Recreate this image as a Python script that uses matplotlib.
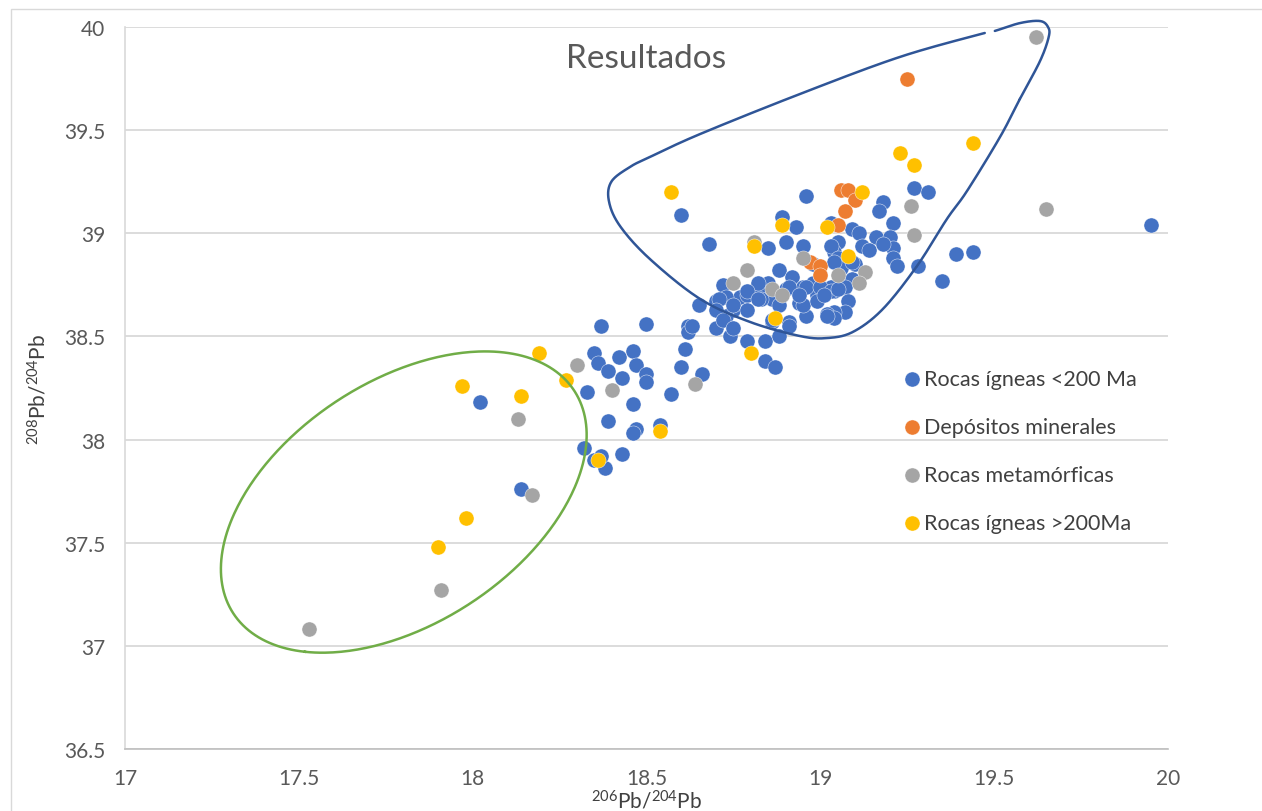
import numpy as np
import matplotlib
matplotlib.use("Agg")
import matplotlib.pyplot as plt
from matplotlib.patches import Rectangle

plt.rcParams["font.family"] = ["Lato", "DejaVu Sans"]
plt.rcParams["mathtext.default"] = "regular"

# ---- datos (206Pb/204Pb, 208Pb/204Pb) ----
ign_jov_x = [19.95, 19.44, 19.39, 19.35, 19.28, 19.27, 19.31, 19.18, 19.17, 19.21,
             19.16, 19.20, 19.21, 19.21, 19.22, 19.09, 19.11, 19.12, 19.14, 19.05,
             19.04, 19.09, 19.07, 19.08, 19.07, 19.04, 19.03, 19.03, 19.03, 19.05,
             18.96, 18.89, 18.93, 18.68, 18.85, 18.90, 18.95, 18.88, 18.72, 18.77,
             18.82, 18.92, 18.95, 18.60, 18.98, 18.85, 18.79, 18.73, 18.70, 18.65,
             18.75, 18.73, 18.70, 18.74, 18.79, 18.84, 18.88, 18.86, 18.91, 18.94,
             18.96, 19.02, 19.04, 18.99, 19.04, 18.62, 18.62, 18.50, 18.37, 18.61,
             18.60, 18.66, 18.57, 18.35, 18.36, 18.42, 18.46, 18.47, 18.50, 18.50,
             18.43, 18.39, 18.33, 18.46, 18.39, 18.47, 18.46, 18.54, 18.32, 18.35,
             18.38, 18.43, 18.37, 18.02, 18.14, 18.84, 18.87, 18.86, 18.82, 18.86,
             18.83, 18.90, 19.00, 18.98, 19.06, 19.10,
             19.04, 19.09, 19.18, 18.91, 18.96, 19.00, 19.03, 18.82, 18.79, 18.82,
             18.71, 18.70, 18.75, 18.79, 18.72, 18.75, 18.91, 18.88, 18.95, 19.02,
             18.99, 18.94, 19.01, 19.05, 18.63]
ign_jov_y = [39.04, 38.91, 38.90, 38.77, 38.84, 39.22, 39.20, 39.15, 39.11, 39.05,
             38.98, 38.98, 38.93, 38.88, 38.84, 39.02, 39.00, 38.94, 38.92, 38.96,
             38.91, 38.78, 38.74, 38.67, 38.62, 38.62, 38.74, 39.05, 38.94, 38.88,
             39.18, 39.08, 39.03, 38.95, 38.93, 38.96, 38.94, 38.82, 38.75, 38.69,
             38.74, 38.79, 38.74, 39.09, 38.76, 38.76, 38.70, 38.69, 38.67, 38.65,
             38.63, 38.60, 38.54, 38.50, 38.48, 38.48, 38.50, 38.57, 38.57, 38.66,
             38.60, 38.61, 38.59, 38.70, 38.72, 38.55, 38.52, 38.56, 38.55, 38.44,
             38.35, 38.32, 38.22, 38.42, 38.37, 38.40, 38.43, 38.36, 38.32, 38.28,
             38.30, 38.33, 38.23, 38.17, 38.09, 38.05, 38.03, 38.07, 37.96, 37.90,
             37.86, 37.93, 37.92, 38.18, 37.76, 38.38, 38.35, 38.58, 38.72, 38.68,
             38.68, 38.73, 38.80, 38.85, 38.83, 38.85,
             38.86, 38.86, 38.95, 38.74, 38.74, 38.74, 38.72, 38.76, 38.72, 38.68,
             38.68, 38.63, 38.65, 38.63, 38.58, 38.54, 38.55, 38.65, 38.65, 38.60,
             38.67, 38.70, 38.70, 38.73, 38.55]

dep_x = [19.25, 19.06, 19.08, 19.10, 19.07, 19.05, 18.97, 19.00, 19.00]
dep_y = [39.75, 39.21, 39.21, 39.16, 39.11, 39.04, 38.86, 38.84, 38.80]

met_x = [19.62, 19.65, 17.53, 17.91, 18.17, 18.13, 18.30, 18.40, 18.64, 19.26,
         19.27, 18.81, 18.95, 18.79, 18.75, 18.86, 18.89, 19.05, 19.13, 19.11]
met_y = [39.95, 39.12, 37.08, 37.27, 37.73, 38.10, 38.36, 38.24, 38.27, 39.13,
         38.99, 38.96, 38.88, 38.82, 38.76, 38.73, 38.70, 38.80, 38.81, 38.76]

ign_ant_x = [19.23, 19.27, 19.44, 18.57, 19.12, 19.02, 18.89, 18.81, 19.08, 18.87,
             18.80, 18.19, 18.27, 17.97, 18.14, 18.54, 18.36, 17.98, 17.90]
ign_ant_y = [39.39, 39.33, 39.44, 39.20, 39.20, 39.03, 39.04, 38.94, 38.89, 38.59,
             38.42, 38.42, 38.29, 38.26, 38.21, 38.04, 37.90, 37.62, 37.48]

series = [
    ("Rocas ígneas <200 Ma", ign_jov_x, ign_jov_y, "#4472C4"),
    ("Depósitos minerales", dep_x, dep_y, "#ED7D31"),
    ("Rocas metamórficas", met_x, met_y, "#A5A5A5"),
    ("Rocas ígneas >200Ma", ign_ant_x, ign_ant_y, "#FFC000"),
]

# contorno azul (dibujado a mano en el original, con un hueco arriba)
lazo_x = [19.502, 19.574, 19.632, 19.655, 19.657, 19.632, 19.574, 19.517, 19.422,
          19.364, 19.278, 19.180, 19.094, 19.019, 18.941, 18.798, 18.654, 18.510,
          18.424, 18.392, 18.399, 18.452, 18.510, 18.654, 18.941, 19.229, 19.473]
lazo_y = [39.981, 40.019, 40.029, 40.000, 39.952, 39.835, 39.651, 39.467, 39.205,
          39.069, 38.841, 38.633, 38.522, 38.492, 38.502, 38.570, 38.682, 38.875,
          39.035, 39.156, 39.250, 39.321, 39.370, 39.481, 39.675, 39.855, 39.971]

# elipse verde: centro y semi-diametros conjugados
elip_c = (17.802, 37.697)
elip_u = (-0.526, -0.325)
elip_v = (0.0, -0.654)


def catmull(xs, ys, n=25):
    P = np.column_stack([xs, ys])
    N = len(P)
    t = np.linspace(0, 1, n)[:, None]
    out = []
    for i in range(N - 1):
        p0, p1, p2, p3 = P[i - 1], P[i], P[i + 1], P[(i + 2) % N]
        seg = 0.5 * ((2 * p1) + (-p0 + p2) * t + (2 * p0 - 5 * p1 + 4 * p2 - p3) * t**2
                     + (-p0 + 3 * p1 - 3 * p2 + p3) * t**3)
        out.append(seg)
    out = np.vstack(out)
    return out[:, 0], out[:, 1]


fig = plt.figure(figsize=(12.62, 8.12), dpi=100)
ax = fig.add_axes([0.099, 0.0764, 0.8265, 0.8891])

fig.add_artist(Rectangle((11 / 1262, -0.1), 1.2, 1.1 - 10 / 812,
                         transform=fig.transFigure, fill=False,
                         edgecolor="#D9D9D9", lw=1.0))

for lab, xs, ys, col in series:
    ax.scatter(xs, ys, s=118, color=col, edgecolors="white", linewidths=0.3,
               label=lab, zorder=3)

lx, ly = catmull(lazo_x, lazo_y)
ax.plot(lx, ly, color="#2F5597", lw=1.8, zorder=4, clip_on=False,
        solid_capstyle="round")

# empezar la elipse lejos del extremo izquierdo para evitar la union visible
tt = np.linspace(1.0, 1.0 + 2 * np.pi, 400)
ex = elip_c[0] + elip_u[0] * np.cos(tt) + elip_v[0] * np.sin(tt)
ey = elip_c[1] + elip_u[1] * np.cos(tt) + elip_v[1] * np.sin(tt)
ax.plot(ex, ey, color="#70AD47", lw=1.8, zorder=4, solid_joinstyle="round")

ax.set_xlim(17, 20)
ax.set_ylim(36.5, 40)
xt = np.arange(17, 20.01, 0.5)
yt = np.arange(36.5, 40.01, 0.5)
ax.set_xticks(xt)
ax.set_xticklabels([f"{v:g}" for v in xt])
ax.set_yticks(yt)
ax.set_yticklabels([f"{v:g}" for v in yt])
ax.tick_params(length=0, labelsize=15, labelcolor="#595959", pad=14)
ax.grid(axis="y", color="#D9D9D9", lw=1.3)
ax.set_axisbelow(True)
for s in ["top", "right"]:
    ax.spines[s].set_visible(False)
ax.spines["left"].set_color("#D9D9D9")
ax.spines["bottom"].set_color("#BFBFBF")
ax.spines["left"].set_linewidth(1.2)
ax.spines["bottom"].set_linewidth(1.2)

ax.set_xlabel(r"$^{206}$Pb/$^{204}$Pb", fontsize=15, color="#404040", labelpad=0)
ax.set_ylabel(r"$^{208}$Pb/$^{204}$Pb", fontsize=15, color="#404040", labelpad=10)
ax.set_title("Resultados", fontsize=24, color="#595959", y=0.933)

ax.legend(loc="upper left", bbox_to_anchor=(0.727, 0.553), frameon=False,
          fontsize=15.5, labelcolor="#404040", handletextpad=0.1,
          handlelength=0.9, labelspacing=1.3, markerscale=1.0)

fig.savefig("out.png", dpi=100)
